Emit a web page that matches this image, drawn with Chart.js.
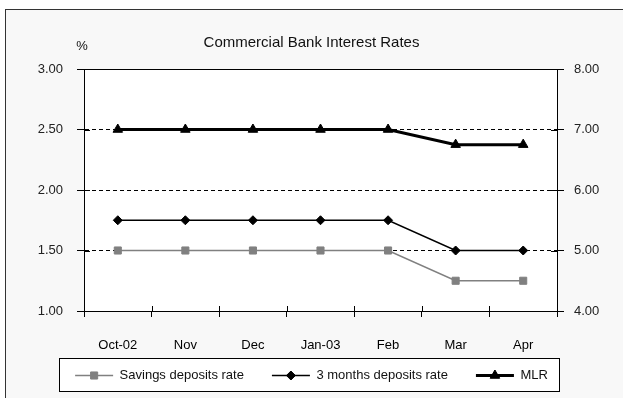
<!DOCTYPE html>
<html>
<head>
<meta charset="utf-8">
<script src="https://cdn.jsdelivr.net/npm/chart.js@4.4.1/dist/chart.umd.min.js"></script>
<style>
  html, body { margin: 0; padding: 0; background: #fff; }
  #frame { position: absolute; left: 5px; top: 9px; width: 700px; height: 500px; border: 1px solid #333; background: #f8f8f8; }
  #wrap { position: absolute; left: 0; top: 0; width: 623px; height: 398px; }
</style>
</head>
<body>
<div id="frame"></div>
<div id="wrap"><canvas id="chart"></canvas></div>
<script>
  const months = ['Oct-02', 'Nov', 'Dec', 'Jan-03', 'Feb', 'Mar', 'Apr'];
  const savingsRate = [1.50, 1.50, 1.50, 1.50, 1.50, 1.25, 1.25];
  const threeMonthRate = [1.75, 1.75, 1.75, 1.75, 1.75, 1.50, 1.50];
  const mlrRate = [7.00, 7.00, 7.00, 7.00, 7.00, 6.75, 6.75];
  const leftTicks = [1.00, 1.50, 2.00, 2.50, 3.00];
  const rightTicks = [4.00, 5.00, 6.00, 7.00, 8.00];

  const FONT = '"Liberation Sans", Arial, sans-serif';

  const series = [
    { label: 'Savings deposits rate', data: savingsRate, axis: 'y', color: '#808080', width: 1.5, style: 'rect', r: 5 },
    { label: '3 months deposits rate', data: threeMonthRate, axis: 'y', color: '#000', width: 1.5, style: 'rectRot', r: 4.5 },
    { label: 'MLR', data: mlrRate, axis: 'y1', color: '#000', width: 3, style: 'triangle', r: 5.5 }
  ];

  // legend icon: short line with the marker on it
  function drawIcon(g, s, x, y) {
    g.save();
    g.strokeStyle = s.color; g.fillStyle = s.color;
    g.lineWidth = s.width;
    g.beginPath(); g.moveTo(x, y); g.lineTo(x + 38, y); g.stroke();
    g.lineWidth = 1;
    Chart.helpers.drawPoint(g, { pointStyle: s.style, radius: s.r, rotation: 0, borderWidth: 1 }, x + 19, y);
    g.restore();
  }

  const framePlugin = {
    id: 'framePlugin',
    beforeDraw(chart) {
      const { ctx, chartArea: a } = chart;
      ctx.save();
      ctx.fillStyle = '#fff';
      ctx.fillRect(a.left, a.top, a.right - a.left, a.bottom - a.top);
      ctx.restore();
    },
    afterDraw(chart) {
      const { ctx, chartArea: a, scales } = chart;
      ctx.save();
      ctx.strokeStyle = '#000';
      ctx.lineWidth = 1;
      ctx.beginPath();
      ctx.moveTo(a.left, Math.round(a.top) + 0.5);
      ctx.lineTo(a.right, Math.round(a.top) + 0.5);
      scales.y.ticks.forEach(t => {
        const y = Math.round(scales.y.getPixelForValue(t.value)) + 0.5;
        ctx.moveTo(a.left, y); ctx.lineTo(a.left + 6, y);
      });
      scales.y1.ticks.forEach(t => {
        const y = Math.round(scales.y1.getPixelForValue(t.value)) + 0.5;
        ctx.moveTo(a.right - 6, y); ctx.lineTo(a.right, y);
      });
      for (let i = 0; i <= months.length; i++) {
        const x = Math.round(scales.x.getPixelForValue(i - 0.5)) + 0.5;
        ctx.moveTo(x, a.bottom); ctx.lineTo(x, a.bottom - 5);
      }
      ctx.stroke();

      // "%" unit label
      ctx.fillStyle = '#111';
      ctx.font = '13px ' + FONT;
      ctx.textAlign = 'center';
      ctx.textBaseline = 'middle';
      ctx.fillText('%', a.left - 2, a.top - 23);

      // legend: line + marker samples in a framed box
      ctx.textAlign = 'left';
      const gap = 28, lineLen = 38, textGap = 6.5;
      const widths = series.map(s => lineLen + textGap + ctx.measureText(s.label).width);
      const total = widths.reduce((p, w) => p + w, 0) + gap * (series.length - 1);
      const cy = chart.height - 22.5;
      let x = chart.width / 2 - total / 2;
      const l = Math.round(x - 16) + 0.5;
      const r = Math.round(x + total + 11) + 0.5;
      const t = Math.round(cy - 17.5) + 0.5;
      const b = Math.round(cy + 15.5) + 0.5;
      ctx.fillStyle = '#fff';
      ctx.fillRect(l, t, r - l, b - t);
      ctx.strokeStyle = '#000';
      ctx.strokeRect(l, t, r - l, b - t);
      series.forEach((s, i) => {
        drawIcon(ctx, s, x, cy);
        ctx.fillStyle = '#111';
        ctx.fillText(s.label, x + lineLen + textGap, cy);
        x += widths[i] + gap;
      });
      ctx.restore();
    }
  };

  new Chart(document.getElementById('chart'), {
    type: 'line',
    data: {
      labels: months,
      datasets: series.map(s => ({
        label: s.label,
        data: s.data,
        yAxisID: s.axis,
        borderColor: s.color,
        backgroundColor: s.color,
        borderWidth: s.width,
        tension: 0,
        fill: false,
        pointStyle: s.style,
        pointRadius: s.r,
        pointHoverRadius: s.r,
        pointBackgroundColor: s.color,
        pointBorderColor: s.color,
        pointBorderWidth: 1
      }))
    },
    options: {
      responsive: true,
      maintainAspectRatio: false,
      animation: false,
      layout: { padding: { top: 0, left: 0, right: 0, bottom: 39 } },
      plugins: {
        title: {
          display: true,
          text: 'Commercial Bank Interest Rates',
          color: '#111',
          font: { family: FONT, size: 15, weight: 'normal' },
          padding: { top: 34, bottom: 17 }
        },
        legend: { display: false },
        tooltip: { enabled: false }
      },
      scales: {
        x: {
          offset: true,
          grid: { offset: true, drawOnChartArea: false, color: '#000', tickColor: '#000', tickLength: 6 },
          border: { color: '#000', width: 1 },
          ticks: { color: '#000', padding: 21, maxRotation: 0, font: { family: FONT, size: 13 } },
          afterFit: s => { s.height = 48; }
        },
        y: {
          position: 'left',
          min: 1, max: 3,
          afterBuildTicks: s => { s.ticks = leftTicks.map(v => ({ value: v })); },
          grid: { color: '#000', tickColor: '#000', tickLength: 7, tickBorderDash: [] },
          border: { color: '#000', width: 1, dash: [4, 3] },
          ticks: { color: '#222', padding: 14, font: { family: FONT, size: 13 }, callback: v => Number(v).toFixed(2) },
          afterFit: s => { s.width = 84; }
        },
        y1: {
          position: 'right',
          min: 4, max: 8,
          afterBuildTicks: s => { s.ticks = rightTicks.map(v => ({ value: v })); },
          grid: { drawOnChartArea: false, color: '#000', tickColor: '#000', tickLength: 7 },
          border: { color: '#000', width: 1 },
          ticks: { color: '#222', padding: 10, font: { family: FONT, size: 13 }, callback: v => Number(v).toFixed(2) },
          afterFit: s => { s.width = 66; }
        }
      }
    },
    plugins: [framePlugin]
  });
</script>
</body>
</html>
